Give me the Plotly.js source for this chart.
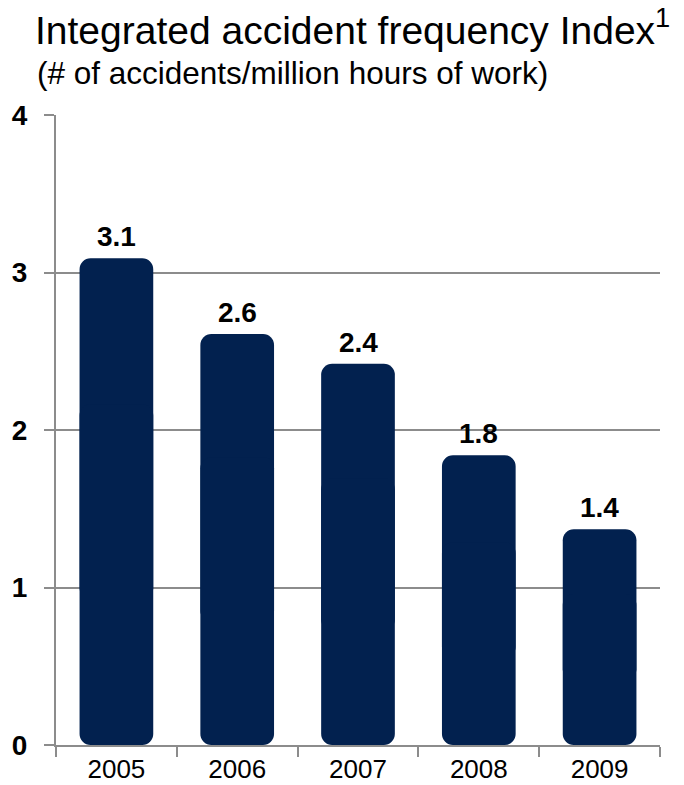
<!DOCTYPE html>
<html>
<head>
<meta charset="utf-8">
<script src="https://cdn.plot.ly/plotly-3.0.1.min.js"></script>
<style>html,body{margin:0;padding:0;background:#fff;}#chart{width:684px;height:785px;}</style>
</head>
<body>
<div id="chart"></div>
<script>
// Data
const years = ['2005', '2006', '2007', '2008', '2009'];
const values = [3.09, 2.61, 2.42, 1.84, 1.37];
const labels = ['3.1', '2.6', '2.4', '1.8', '1.4'];
const yTicks = [0, 1, 2, 3, 4];
const yTickLabels = ['0', '1', '2', '3', '4'];

const navy = '#02214F';
const grid = '#8C8C8C';
const fontFam = 'Liberation Sans, Arial, sans-serif';

// Each bar drawn as two overlapping parts so both ends get rounded corners
const upper = {
  type: 'bar', x: years,
  base: values.map(v => v * 0.3), y: values.map(v => v * 0.7),
  marker: {color: navy, cornerradius: 11, line: {width: 0}},
  width: 0.61, hoverinfo: 'skip', showlegend: false
};
const lower = {
  type: 'bar', x: years,
  base: values.map(v => v * 0.7), y: values.map(v => -v * 0.7),
  marker: {color: navy, cornerradius: 11, line: {width: 0}},
  width: 0.61, hoverinfo: 'skip', showlegend: false
};

const annotations = years.map((yr, i) => ({
  x: i, y: values[i], xref: 'x', yref: 'y',
  text: '<b>' + labels[i] + '</b>', showarrow: false,
  yanchor: 'bottom', yshift: 4,
  font: {family: fontFam, size: 28, color: '#000'}
}));
annotations.push({
  xref: 'paper', yref: 'paper', x: -21 / 604, y: 1 + 42 / 630,
  xanchor: 'left', yanchor: 'middle', showarrow: false,
  text: '(# of accidents/million hours of work)',
  font: {family: fontFam, size: 31.5, color: '#000'}
});

const layout = {
  width: 684, height: 785,
  margin: {l: 56, r: 24, t: 115, b: 40},
  paper_bgcolor: '#fff', plot_bgcolor: '#fff',
  barmode: 'overlay',
  title: {
    text: 'Integrated accident frequency Index<sup>1</sup>',
    x: 35 / 684, xanchor: 'left', xref: 'container',
    y: 1 - 30 / 785, yanchor: 'middle', yref: 'container',
    font: {family: fontFam, size: 39, color: '#000'}
  },
  xaxis: {
    type: 'category', categoryarray: years, range: [-0.5, 4.5],
    showgrid: false, zeroline: false,
    showline: true, linecolor: grid, linewidth: 2,
    ticks: 'outside', tickson: 'boundaries', ticklen: 10, tickwidth: 2, tickcolor: grid,
    tickangle: 0,
    tickfont: {family: fontFam, size: 26, color: '#000'},
    fixedrange: true
  },
  yaxis: {
    range: [0, 4], tickvals: yTicks, ticktext: yTickLabels,
    showgrid: true, gridcolor: grid, gridwidth: 2,
    zeroline: false, showline: true, linecolor: grid, linewidth: 2,
    ticks: 'outside', ticklen: 10, tickwidth: 2, tickcolor: grid,
    ticklabelstandoff: 11,
    tickfont: {family: fontFam, size: 28, color: '#000', weight: 'bold'},
    fixedrange: true
  },
  annotations: annotations
};

Plotly.newPlot('chart', [upper, lower], layout, {displayModeBar: false, staticPlot: true});
</script>
</body>
</html>
